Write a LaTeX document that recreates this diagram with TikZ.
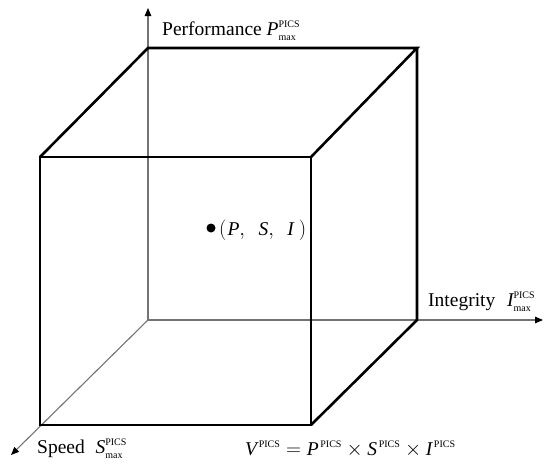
\documentclass[tikz,border=0pt]{standalone}
\usepackage{fontspec}
\setmainfont{Liberation Serif}
\DeclareMathSizes{19.5}{19.5}{10}{8}
\usetikzlibrary{arrows.meta}
\tikzset{
  edge/.style={line width=2.6pt, line cap=round, line join=miter},
  axis/.style={draw=black!55, line width=1.1pt, -{Triangle[length=8pt,width=6.5pt,color=black,fill=black]}},
  lab/.style={anchor=base west, inner sep=0pt, font=\fontsize{19.5}{23}\selectfont},
}
\newcommand{\pv}[1]{$\mathit{#1}^{\mathrm{PICS}}_{\mathrm{max}}$}
\newcommand{\pq}[1]{\mathit{#1}^{\,\mathrm{PICS}}}
\begin{document}
\begin{tikzpicture}[x=1pt,y=-1pt]
\useasboundingbox (0,0) rectangle (544,464);
% corners
\coordinate (A) at (40,157);
\coordinate (B) at (311,157);
\coordinate (C) at (311,425);
\coordinate (D) at (40,425);
\coordinate (E) at (148,48);
\coordinate (F) at (417,48);
\coordinate (G) at (417,320);
\coordinate (O) at (148,320);
\coordinate (Ptip) at (148,8);
\coordinate (Itip) at (543,320);
\coordinate (Stip) at (11,455);
% axes
\draw[axis] (O) -- (Ptip);
\draw[axis] (O) -- (Itip);
\draw[axis] (O) -- (Stip);
% cube
\draw[edge] (A) -- (B) -- (C) -- (D) -- cycle;
\draw[edge] (A) -- (E) -- (F) -- (B);
\draw[edge] (F) -- (G) -- (C);
% labels
\node[lab] (perf) at (162,35) {Performance \pv{P}};
\node[lab] (integ) at (428,306) {Integrity\hspace{0.6em}\pv{I}};
\node[lab] (speed) at (37,453) {Speed\hspace{0.55em}\pv{S}};
\node[lab] (vol) at (245,455) {$\pq{V} = \pq{P} \times \pq{S} \times \pq{I}$};
\node[circle, fill=black, inner sep=0pt, minimum size=9pt] (pt) at (211,228) {};
\node[lab] (pts) at (219,235) {$\bigl(\hspace{1pt}\mathit{P},\hspace{10pt}\mathit{S},\hspace{10pt}\mathit{I}\hspace{5pt}\bigr)$};
\end{tikzpicture}
\end{document}
